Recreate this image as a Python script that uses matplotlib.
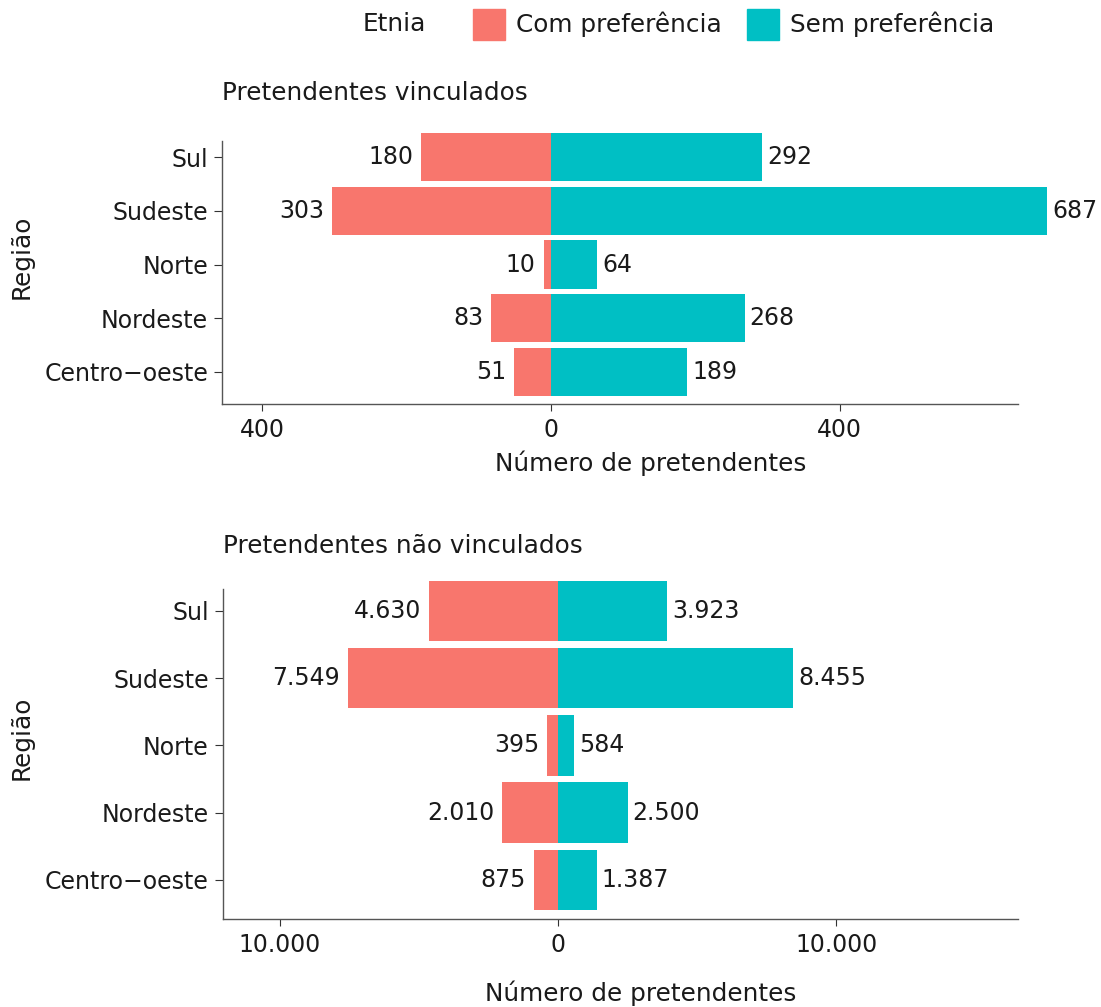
import matplotlib
matplotlib.use("Agg")
import matplotlib.pyplot as plt
from matplotlib.patches import Rectangle

plt.rcParams['font.family'] = ['DejaVu Sans']

regioes = ["Centro−oeste", "Nordeste", "Norte", "Sudeste", "Sul"]
vinc_com = [51, 83, 10, 303, 180]
vinc_sem = [189, 268, 64, 687, 292]
nvinc_com = [875, 2010, 395, 7549, 4630]
nvinc_sem = [1387, 2500, 584, 8455, 3923]

vinc_ticks = [-400, 0, 400]
vinc_ticklabels = ["400", "0", "400"]
nvinc_ticks = [-10000, 0, 10000]
nvinc_ticklabels = ["10.000", "0", "10.000"]

COM = "#F8766D"
SEM = "#00BFC4"
TXT = "#1a1a1a"
W, H = 1101, 1007
FS = 17      # ticks e rotulos das barras
FS2 = 17.8   # titulos, eixos e legenda

fig = plt.figure(figsize=(W / 100, H / 100), dpi=100)


def fmt(v):
    return f"{v:,}".replace(",", ".")


def painel(box, xlim, ylim, spine_top, com, sem, ticks, ticklabels, titulo,
           titulo_y, xlab_x, xlab_y, ylab_y):
    l, t, r, b = box
    ax = fig.add_axes([l / W, 1 - b / H, (r - l) / W, (b - t) / H])
    y = list(range(len(regioes)))
    neg = [-v for v in com]
    ax.barh(y, neg, height=0.9, color=COM, clip_on=False)
    ax.barh(y, sem, height=0.9, color=SEM, clip_on=False)
    for yi, c, s in zip(y, com, sem):
        ax.annotate(fmt(c), (-c, yi), xytext=(-8, 0), textcoords="offset pixels",
                    ha="right", va="center", fontsize=FS, color=TXT,
                    annotation_clip=False)
        ax.annotate(fmt(s), (s, yi), xytext=(5, 0), textcoords="offset pixels",
                    ha="left", va="center", fontsize=FS, color=TXT,
                    annotation_clip=False)
    ax.set_xlim(*xlim)
    ax.set_ylim(*ylim)
    ax.set_yticks(y)
    ax.set_yticklabels(regioes, fontsize=FS, color=TXT)
    ax.set_xticks(ticks)
    ax.set_xticklabels(ticklabels, fontsize=FS, color=TXT)
    ax.tick_params(axis="y", length=6, width=0.8, color="#333333", pad=4)
    ax.tick_params(axis="x", length=5, width=0.8, color="#333333", pad=5)
    for s in ["top", "right"]:
        ax.spines[s].set_visible(False)
    for s in ["left", "bottom"]:
        ax.spines[s].set_color("#555555")
        ax.spines[s].set_linewidth(1.0)
    ax.spines["left"].set_bounds(ylim[0], spine_top)
    ax.set_xlabel("Número de pretendentes", fontsize=FS2, color=TXT)
    ax.xaxis.set_label_coords(xlab_x / W, 1 - xlab_y / H, transform=fig.transFigure)
    ax.xaxis.label.set_va("center")
    ax.set_ylabel("Região", fontsize=FS2, color=TXT)
    ax.yaxis.set_label_coords(22 / W, 1 - ylab_y / H, transform=fig.transFigure)
    ax.yaxis.label.set_va("center")
    fig.text(l / W, 1 - titulo_y / H, titulo, fontsize=FS2, color=TXT, va="center")
    return ax


ax1 = painel((222, 130, 1018, 404), (-455.7, 646.8), (-0.6, 4.51), 4.31,
             vinc_com, vinc_sem, vinc_ticks, vinc_ticklabels,
             "Pretendentes vinculados", 93, 651, 463, 257)
ax2 = painel((222.7, 580, 1018, 919), (-12052, 16535), (-0.58, 4.46), 4.33,
             nvinc_com, nvinc_sem, nvinc_ticks, nvinc_ticklabels,
             "Pretendentes não vinculados", 546, 641, 993, 738)

# legenda no topo
fig.text(363 / W, 1 - 24 / H, "Etnia", fontsize=FS2, color=TXT, va="center")
for x0, cor, rot in [(473, COM, "Com preferência"), (747, SEM, "Sem preferência")]:
    fig.patches.append(Rectangle((x0 / W, 1 - 40 / H), 32 / W, 31 / H,
                                 transform=fig.transFigure, color=cor))
    fig.text((x0 + 43) / W, 1 - 24 / H, rot, fontsize=FS2, color=TXT, va="center")

fig.savefig("out.png", dpi=100)
